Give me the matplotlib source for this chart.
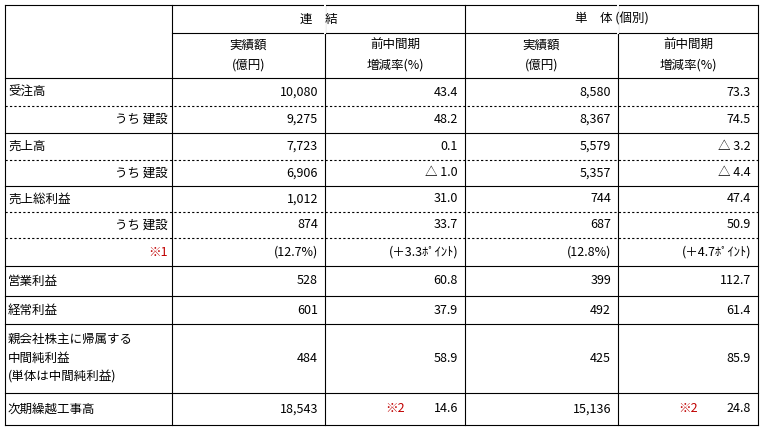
import matplotlib.pyplot as plt

plt.rcParams['font.family'] = ['Noto Sans CJK JP', 'DejaVu Sans']

row_labels = ['受注高', 'うち 建設', '売上高', 'うち 建設', '売上総利益', 'うち 建設', '※1',
              '営業利益', '経常利益', '親会社株主に帰属する\n中間純利益\n(単体は中間純利益)', '次期繰越工事高']
label_right = [False, True, False, True, False, True, True, False, False, False, False]
con_amount = ['10,080', '9,275', '7,723', '6,906', '1,012', '874', '(12.7%)', '528', '601', '484', '18,543']
con_rate = ['43.4', '48.2', '0.1', '△ 1.0', '31.0', '33.7', '(＋3.3ﾎﾟｲﾝﾄ)', '60.8', '37.9', '58.9', '14.6']
ind_amount = ['8,580', '8,367', '5,579', '5,357', '744', '687', '(12.8%)', '399', '492', '425', '15,136']
ind_rate = ['73.3', '74.5', '△ 3.2', '△ 4.4', '47.4', '50.9', '(＋4.7ﾎﾟｲﾝﾄ)', '112.7', '61.4', '85.9', '24.8']
note_last = '※2'

col_x = [5, 172, 325, 465, 618, 758]
row_y = [78, 106, 133, 160, 186, 212, 238, 266, 296, 324, 393, 425]
dashed_after = {0, 2, 4, 5}   # row index whose bottom border is dashed
red = '#c00000'

fig = plt.figure(figsize=(7.62, 4.32), dpi=100)
ax = fig.add_axes([0, 0, 1, 1])
ax.set_xlim(0, 762)
ax.set_ylim(432, 0)
ax.axis('off')
lw = 0.8
fs = 9

# outer / header lines
ax.plot([col_x[0], col_x[-1]], [5, 5], 'k', lw=lw)
ax.plot([col_x[1], col_x[-1]], [33, 33], 'k', lw=lw)
for x in col_x:
    ax.plot([x, x], [5, row_y[-1]], 'k', lw=lw)
for x in (col_x[2], col_x[4]):
    ax.plot([x, x], [5, 33], color='white', lw=lw + 0.6)
for i, y in enumerate(row_y):
    if i - 1 in dashed_after:
        ax.plot([col_x[0], col_x[-1]], [y, y], 'k', lw=lw, ls=(0, (2, 2)))
    else:
        ax.plot([col_x[0], col_x[-1]], [y, y], 'k', lw=lw)

ax.text((col_x[1] + col_x[3]) / 2, 19, '連　結', ha='center', va='center', fontsize=fs)
ax.text((col_x[3] + col_x[5]) / 2, 19, '単　体 (個別)', ha='center', va='center', fontsize=fs)
for c in (1, 3):
    ax.text((col_x[c] + col_x[c + 1]) / 2, 55, '実績額\n(億円)', ha='center', va='center', fontsize=fs, linespacing=1.7)
    ax.text((col_x[c + 1] + col_x[c + 2]) / 2, 55, '前中間期\n増減率(%)', ha='center', va='center', fontsize=fs, linespacing=1.7)

for i, lab in enumerate(row_labels):
    yc = (row_y[i] + row_y[i + 1]) / 2
    color = red if lab.startswith('※') else 'black'
    if label_right[i]:
        ax.text(col_x[1] - 4, yc, lab, ha='right', va='center', fontsize=fs, color=color)
    else:
        ax.text(col_x[0] + 3, yc, lab, ha='left', va='center', fontsize=fs, linespacing=1.6)
    for c, vals in zip((1, 2, 3, 4), (con_amount, con_rate, ind_amount, ind_rate)):
        ax.text(col_x[c + 1] - 7, yc, vals[i], ha='right', va='center', fontsize=fs)
    if i == len(row_labels) - 1:
        for c in (2, 4):
            ax.text(col_x[c] + 60, yc, note_last, ha='left', va='center', fontsize=fs, color=red)

fig.savefig('out.png', dpi=100, facecolor='white')
